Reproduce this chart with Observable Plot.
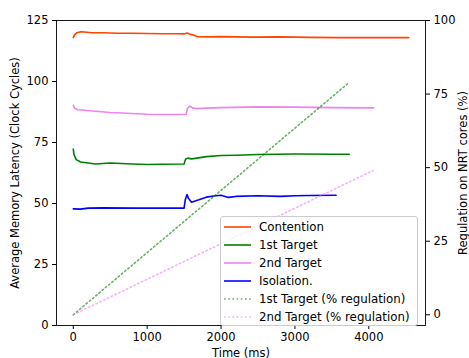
<!DOCTYPE html>
<html><head><meta charset="utf-8">
<script src="https://cdn.jsdelivr.net/npm/d3@7"></script>
<script src="https://cdn.jsdelivr.net/npm/@observablehq/plot@0.6"></script>
<style>
body{margin:0;background:#fff;}
#wrap{position:relative;width:469px;height:358px;font-family:"DejaVu Sans",sans-serif;color:#000;}
#legend{position:absolute;left:220px;top:216px;width:198px;height:110px;box-sizing:border-box;border:1px solid #ccc;border-radius:3px;background:rgba(255,255,255,0.8);}
.row{position:absolute;left:3px;height:18px;display:flex;align-items:center;font-size:11.8px;white-space:nowrap;}
.row svg{margin-right:8px;}
</style>
</head><body>
<div id="wrap"><div id="chart"></div><div id="legend"></div></div>
<script>
// Series (x: time in ms, y: latency in clock cycles)
const contentionT = [0, 15, 50, 100, 150, 250, 400, 600, 800, 1000, 1200, 1400, 1500, 1540, 1580, 1620, 1680, 1800, 2000, 2400, 2800, 3200, 3600, 4000, 4540];
const contentionV = [118.0, 119.0, 120.0, 120.4, 120.3, 120.0, 120.0, 119.8, 119.8, 119.7, 119.6, 119.6, 119.5, 119.9, 119.3, 119.1, 118.4, 118.3, 118.4, 118.2, 118.3, 118.1, 118.0, 118.0, 118.0];

const target1T = [0, 10, 40, 100, 200, 300, 500, 800, 1000, 1200, 1500, 1520, 1550, 1600, 1650, 1800, 2000, 2200, 2500, 3000, 3500, 3736];
const target1V = [72.3, 70.0, 68.0, 67.0, 66.6, 66.2, 66.6, 66.2, 66.0, 66.1, 66.2, 68.2, 68.6, 68.3, 68.5, 69.2, 69.7, 69.8, 70.1, 70.3, 70.2, 70.2];

const target2T = [0, 20, 60, 150, 300, 500, 800, 1000, 1200, 1400, 1530, 1545, 1580, 1620, 1660, 1800, 2000, 2500, 3000, 3500, 4065];
const target2V = [90.2, 89.0, 88.4, 88.2, 87.8, 87.3, 86.9, 86.6, 86.5, 86.5, 86.6, 89.0, 89.9, 89.1, 88.9, 89.1, 89.3, 89.6, 89.5, 89.3, 89.2];

const isolationT = [0, 100, 200, 400, 800, 1200, 1500, 1515, 1540, 1560, 1600, 1700, 1800, 1900, 2000, 2100, 2200, 2500, 2800, 3000, 3200, 3557];
const isolationV = [47.8, 47.7, 48.1, 48.2, 48.1, 48.1, 48.1, 51.5, 53.7, 52.0, 50.5, 51.5, 52.6, 53.1, 53.4, 52.5, 52.9, 53.2, 52.9, 53.2, 53.3, 53.4];

// Regulation series (right axis, %)
const reg1T = [0, 3736];
const reg1V = [0, 79];
const reg2T = [0, 4057];
const reg2V = [0, 49];

// Tick labels
const xTicks = [0, 1000, 2000, 3000, 4000];
const yTicks = [0, 25, 50, 75, 100, 125];
const rTicks = [0, 25, 50, 75, 100];

const names = ["Contention", "1st Target", "2nd Target", "Isolation.", "1st Target (% regulation)", "2nd Target (% regulation)"];
const colors = ["#ff4500", "#008000", "#ee82ee", "#0000ff", "rgba(0,128,0,0.6)", "rgba(238,130,238,0.6)"];
const dashed = [false, false, false, false, true, true];

const yDomain = [0, 125];
const rDomain = [-3.64, 100];
const toLeft = r => (r - rDomain[0]) / (rDomain[1] - rDomain[0]) * (yDomain[1] - yDomain[0]) + yDomain[0];
const fromLeft = l => (l - yDomain[0]) / (yDomain[1] - yDomain[0]) * (rDomain[1] - rDomain[0]) + rDomain[0];

const zip = (T, V) => T.map((t, i) => ({t, v: V[i]}));
const solid = [zip(contentionT, contentionV), zip(target1T, target1V), zip(target2T, target2V), zip(isolationT, isolationV)];
const regs = [zip(reg1T, reg1V), zip(reg2T, reg2V)];

const marks = [];
solid.forEach((d, i) => marks.push(Plot.line(d, {x: "t", y: "v", stroke: colors[i], strokeWidth: 1.6})));
regs.forEach((d, i) => marks.push(Plot.line(d, {x: "t", y: r => toLeft(r.v), stroke: colors[4 + i], strokeWidth: 1.6, strokeDasharray: "1.6,2.6"})));

const chart = Plot.plot({
  width: 469, height: 358,
  marginLeft: 56, marginRight: 44, marginTop: 20, marginBottom: 33,
  style: {fontFamily: "DejaVu Sans", fontSize: "11.5px", color: "black", background: "white", overflow: "visible"},
  x: {domain: [-227, 4767]},
  y: {domain: yDomain},
  marks: [
    ...marks,
    Plot.frame({stroke: "black", strokeWidth: 0.9}),
    Plot.axisX({ticks: xTicks, tickFormat: d3.format("d"), tickSize: 4, tickPadding: 3, label: null}),
    Plot.axisY({anchor: "left", ticks: yTicks, tickFormat: d3.format("d"), tickSize: 4, tickPadding: 4, label: null}),
    Plot.axisY(rTicks.map(toLeft), {anchor: "right", tickFormat: d => String(Math.round(fromLeft(d))), tickSize: 4, tickPadding: 4, label: null}),
    Plot.text(["Time (ms)"], {frameAnchor: "bottom", text: d => d, dy: 28, lineAnchor: "middle", textAnchor: "middle", fontSize: 11.5}),
    Plot.text(["Average Memory Latency (Clock Cycles)"], {frameAnchor: "left", text: d => d, dx: -41, rotate: -90, textAnchor: "middle", lineAnchor: "middle", fontSize: 11.5}),
    Plot.text(["Regulation on NRT cores (%)"], {frameAnchor: "right", text: d => d, dx: 38, rotate: -90, textAnchor: "middle", lineAnchor: "middle", fontSize: 11.5})
  ]
});
document.getElementById("chart").appendChild(chart);

const legend = document.getElementById("legend");
names.forEach((n, i) => {
  const row = document.createElement("div");
  row.className = "row";
  row.style.top = (0.5 + 18 * i) + "px";
  row.innerHTML = `<svg width="27" height="4"><line x1="0" x2="27" y1="2" y2="2" stroke="${colors[i]}" stroke-width="1.6" ${dashed[i] ? 'stroke-dasharray="1.6,2.6"' : ''}/></svg><span></span>`;
  row.querySelector("span").textContent = n;
  legend.appendChild(row);
});
</script>
</body></html>
